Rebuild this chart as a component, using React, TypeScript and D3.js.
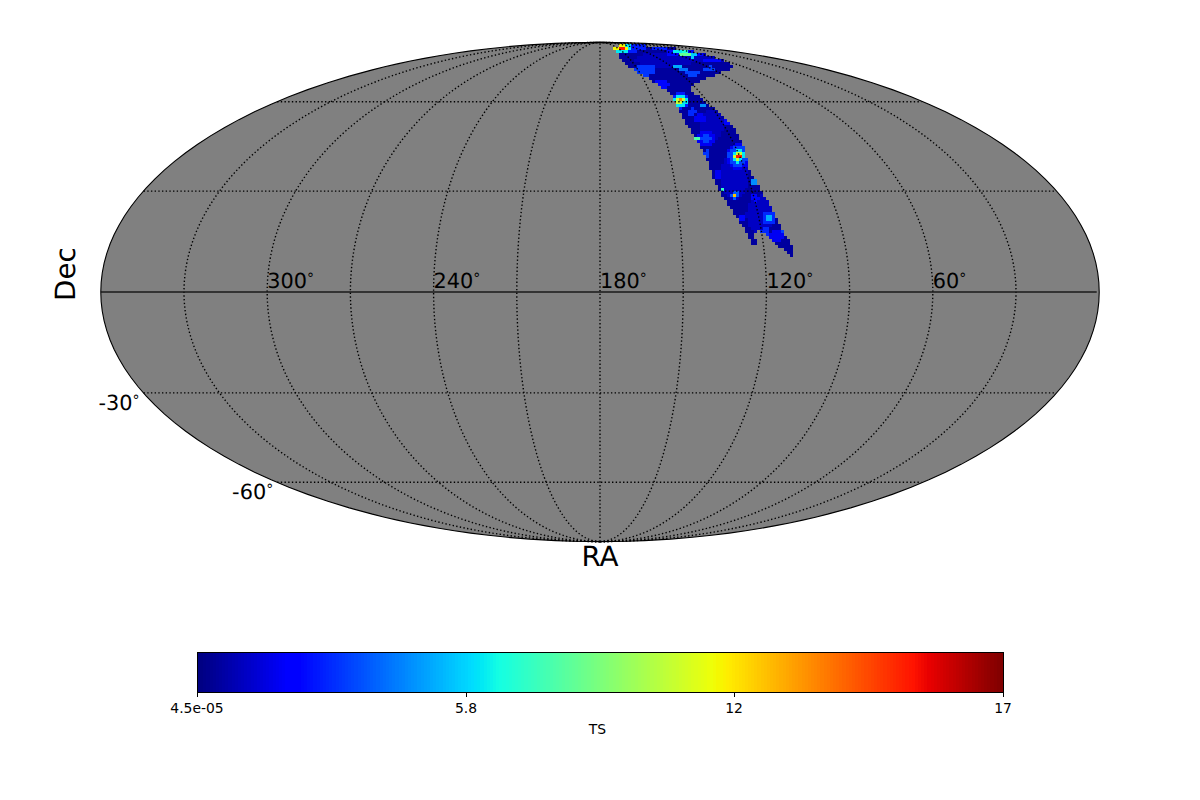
import React from "react";
import * as d3 from "d3";

// Sky-map footprint outline, in degrees
const outlineRa = [149.7,116.1,85.5,67.6,52.2,55.5,54.3,57.6,61.8,65.1,71.1,89.7,104.9,120.6,124.7,123.7,121.5,119.6,116.8,115.6,115.9,116.8,118.3,117.1,116.2,114.1,111.9,109.6,109.2,110.7,113.0,115.6,119.5,120.8,122.6,122.7,124.6,125.0,127.4,130.2,132.2,134.1,134.5,136.4,138.2,138.6,138.4,140.5,147.0,155.4,159.2,155.8];
const outlineDec = [86.4,87.2,87.2,86.4,85.6,83.6,81.8,79.5,76.9,75.0,74.0,71.7,69.5,66.6,64.6,63.0,61.4,57.7,53.3,49.2,45.8,42.4,36.0,34.1,29.8,24.9,18.2,13.2,10.8,10.5,12.3,14.4,17.4,18.2,16.8,13.5,13.5,16.5,20.3,24.9,28.8,34.4,39.8,47.1,54.0,59.5,61.8,65.4,69.5,74.0,79.0,84.9];

// TS excesses: centre, half-widths (degrees), level
const spotRa = [116,71,126,125,119.3,122.8,76.4,73.2,70.2,144.4,139.5,110.7,91.5,114.9,113.6,71.3,73.2,76.6,76.6,142,145.5,142,135.1,135.1,135.1,135.1,123.9,132.1,129.7,131.4,131.4,135.7,117.4,120.6,120.6,120.6,120.6,120.6,133.7,131.8,131.7,127.1,127.1,119.6,116.2,116.2,118.5,112.1,126.7,118.7,114.9];
const spotDec = [78,79,51.5,35,22.8,85.6,84.9,81.8,77.9,73.1,67,71.7,73.6,74.5,73.1,83,81.8,81.2,80.1,84.9,84.9,84.9,60.3,60.3,60.3,60.3,58.8,56.2,54,47.1,47.1,46.8,52.6,41.1,41.1,41.1,41.1,41.1,41.8,35.1,30.7,28.8,28.8,27.9,21.8,21.8,32.9,18.8,21.8,17.7,16.5];
const spotRx = [10.8,9,4.3,5,5,6.1,2.9,7.2,3.6,4,2.5,2.5,2.2,1.8,1.8,2.2,1.8,2.2,1.4,3.6,2.5,1.4,3.2,2.5,1.4,0.7,1.4,1.4,2.2,3.2,1.8,0.7,1.1,4.3,3.6,2.2,1.4,0.9,1.1,1.4,0.9,1.4,0.7,1.4,2.5,1.1,1.1,0.7,1.4,1.8,2.5];
const spotRy = [2.9,1.8,5.4,9,7,1.8,0.7,1.4,0.9,2.2,1.8,1.1,0.9,0.7,0.7,0.8,0.8,0.8,0.8,1.6,1.2,0.8,2.9,2,1.1,0.55,0.7,1.4,1.8,2.9,1.8,0.7,1.1,5,4,2.5,1.4,0.9,1.4,1.4,0.7,1.4,0.55,1.4,2.5,1.1,1.4,1.4,1.4,1.4,2.2];
const spotTs = [0.9,0.9,0.9,1.0,1.0,2.6,2.6,2.2,2.2,3,2.2,3.2,3.2,5,4,6,6.5,8,5.5,6,11,15,2.6,6,10,13,4.5,2.8,1.7,1.7,3.2,7.5,2.2,1.7,3.2,6,10,15,3,1.7,7,3.6,12,2.2,2.8,5,4.5,3.2,2.2,2.8,1.7];
const backgroundTs = 0.45;

const meridianLabels = ["300","240","180","120","60"];
const meridianRa = [300,240,180,120,60];
const gridMeridians = [330,300,270,240,210,180,150,120,90,60,30];
const parallels = [60,30,-30,-60];
const decLabels = ["-30","-60"];
const decValues = [-30,-60];
const colorbarTicks = ["4.5e-05","5.8","12","17"];
const colorbarTickValues = [0.000045,5.667,11.333,17];
const tsMin = 0.000045, tsMax = 17;

function mollweideRaw(lam: number, phi: number): [number, number] {
  let th = phi;
  if (Math.abs(Math.abs(phi) - Math.PI / 2) < 1e-9) th = phi;
  else for (let i = 0; i < 40; i++) {
    const d = (2 * th + Math.sin(2 * th) - Math.PI * Math.sin(phi)) / (2 + 2 * Math.cos(2 * th));
    th -= d;
    if (Math.abs(d) < 1e-9) break;
  }
  return [(2 * Math.SQRT2 / Math.PI) * lam * Math.cos(th), Math.SQRT2 * Math.sin(th)];
}
const projection = d3.geoProjection(mollweideRaw).scale(176.5).translate([600, 292]).precision(0.1);
const geoPath = d3.geoPath(projection);
const toLon = (ra: number) => 180 - ra;
const proj = (ra: number, dec: number) => projection([toLon(ra), dec]) as [number, number];
const pxPerDeg = 2.77;

const chan = (xs: number[], ys: number[]) => d3.scaleLinear<number>().domain(xs).range(ys).clamp(true);
const rJet = chan([0,0.35,0.66,0.89,1],[0,0,1,1,0.5]);
const gJet = chan([0,0.125,0.375,0.64,0.91,1],[0,0,1,1,0,0]);
const bJet = chan([0,0.11,0.34,0.65,1],[0.5,1,1,0,0]);
const jet = (t: number) => `rgb(${Math.round(rJet(t)*255)},${Math.round(gJet(t)*255)},${Math.round(bJet(t)*255)})`;
const tsNorm = d3.scaleLinear().domain([tsMin, tsMax]).range([0, 1]).clamp(true);

const cellSize = 3;
function buildCells() {
  const poly = outlineRa.map((r, i) => proj(r, outlineDec[i]));
  const xs = poly.map(p => p[0]), ys = poly.map(p => p[1]);
  const spots = spotRa.map((r, i) => ({ c: proj(r, spotDec[i]), rx: spotRx[i] * pxPerDeg, ry: spotRy[i] * pxPerDeg, ts: spotTs[i] }));
  const cells: { x: number; y: number; ts: number }[] = [];
  for (let y = Math.floor(d3.min(ys)!); y < d3.max(ys)!; y += cellSize) {
    for (let x = Math.floor(d3.min(xs)!); x < d3.max(xs)!; x += cellSize) {
      const cx = x + cellSize / 2, cy = y + cellSize / 2;
      if (!d3.polygonContains(poly, [cx, cy])) continue;
      let ts = backgroundTs;
      for (const s of spots) {
        const dx = (cx - s.c[0]) / s.rx, dy = (cy - s.c[1]) / s.ry;
        if (dx * dx + dy * dy <= 1 && s.ts > ts) ts = s.ts;
      }
      cells.push({ x, y, ts });
    }
  }
  return cells;
}

const font = "'DejaVu Sans'";
const cbX = d3.scaleLinear().domain([tsMin, tsMax]).range([197, 1003]);
const cbLevels = d3.range(256);

function Deg({ x, y, label }: { x: number; y: number; label: string }) {
  return <text x={x} y={y} fontSize={20.83} fill="#000" textRendering="geometricPrecision">{label}<tspan fontSize={14} dy={-5}>°</tspan></text>;
}

export default function App() {
  const cells = buildCells();
  const line = (coords: number[][]) => geoPath({ type: "LineString", coordinates: coords } as any) as string;
  const sphere = geoPath({ type: "Sphere" } as any) as string;
  const lons = d3.range(-179.9, 180, 1);
  return (
    <svg width={1200} height={800} style={{ position: "absolute", left: 0, top: 0, background: "#fff" }} fontFamily={font}>
      <path d={sphere} fill="#808080" />
      <g shapeRendering="crispEdges">
        {cells.map((c, i) => <rect key={i} x={c.x} y={c.y} width={cellSize} height={cellSize} fill={jet(tsNorm(c.ts))} />)}
      </g>
      <g fill="none" stroke="#000" strokeWidth={1.39} strokeDasharray="1.39 2.29">
        {gridMeridians.map(ra => <path key={ra} d={line(d3.range(-90, 90.5, 1).map(d => [toLon(ra), d]))} />)}
        {parallels.map(d => <path key={d} d={line(lons.map(l => [l, d]))} />)}
      </g>
      <path d={line(lons.map(l => [l, 0]))} fill="none" stroke="#1a1a1a" strokeWidth={1.6} />
      <path d={sphere} fill="none" stroke="#000" strokeWidth={1.1} />
      {meridianLabels.map((l, i) => <Deg key={l} x={proj(meridianRa[i], 0)[0]} y={288} label={l} />)}
      {decLabels.map((l, i) => {
        const p = proj(359.9, decValues[i]);
        return <Deg key={l} x={p[0] - 45} y={p[1] + 16.7} label={l} />;
      })}
      <text transform="translate(75,274) rotate(-90)" textAnchor="middle" fontSize={27.8} textRendering="geometricPrecision">Dec</text>
      <text x={600} y={566} textAnchor="middle" fontSize={27.8} textRendering="geometricPrecision">RA</text>
      <g shapeRendering="crispEdges">
        {cbLevels.map(l => <rect key={l} x={197 + (l * 806) / 256} y={652} width={806 / 256 + 0.5} height={40} fill={jet(l / 255)} />)}
      </g>
      <rect x={197} y={652} width={806} height={40} fill="none" stroke="#000" strokeWidth={1} shapeRendering="crispEdges" />
      {colorbarTicks.map((t, i) => {
        const x = Math.round(cbX(colorbarTickValues[i]));
        return <g key={t}>
          <line x1={x} x2={x} y1={692} y2={697} stroke="#000" strokeWidth={1} shapeRendering="crispEdges" />
          <text x={x} y={713} textAnchor="middle" fontSize={13.9}>{t}</text>
        </g>;
      })}
      <text x={597.5} y={733.5} textAnchor="middle" fontSize={13.9}>TS</text>
    </svg>
  );
}
